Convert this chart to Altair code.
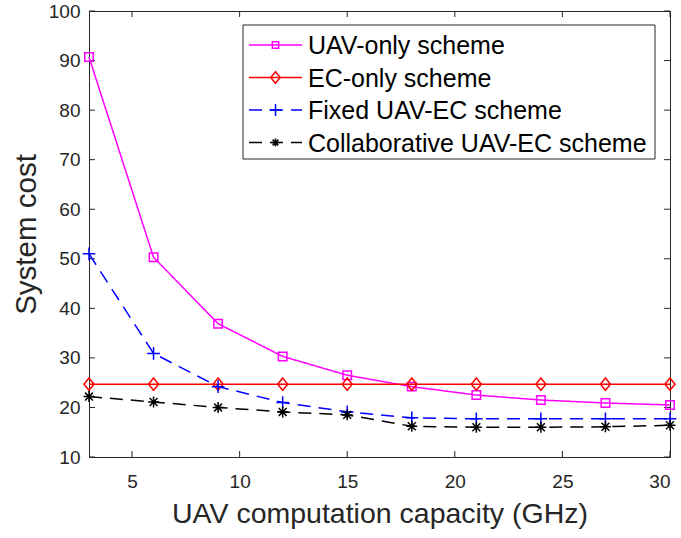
import altair as alt
import pandas as pd

# UAV computation capacity (GHz)
capacity = [3, 6, 9, 12, 15, 18, 21, 24, 27, 30]

# System cost of each scheme
uav_only = [90.7, 50.3, 36.9, 30.3, 26.5, 24.2, 22.5, 21.5, 20.9, 20.5]
ec_only = [24.7, 24.7, 24.7, 24.7, 24.7, 24.7, 24.7, 24.7, 24.7, 24.7]
fixed_uav_ec = [51.0, 30.9, 24.2, 21.0, 19.1, 17.9, 17.7, 17.7, 17.7, 17.7]
collab_uav_ec = [22.2, 21.1, 20.0, 19.1, 18.5, 16.2, 16.0, 16.0, 16.1, 16.4]

x_ticks = [5, 10, 15, 20, 25, 30]
y_ticks = [10, 20, 30, 40, 50, 60, 70, 80, 90, 100]

W, H = 581, 446
FONT = "Liberation Sans"
AXIS_COLOR = "#262626"

# marker paths (unit box [-1, 1])
PLUS = "M-1,0L1,0M0,-1L0,1"
STAR = "M-1,0L1,0M0,-1L0,1M-0.72,-0.72L0.72,0.72M-0.72,0.72L0.72,-0.72"
DIAMOND = "M0,-1L0.82,0L0,1L-0.82,0Z"

series = [
    # label, values, color, dash, shape, size
    ("UAV-only scheme", uav_only, "#FF00FF", [1, 0], "square", 72),
    ("EC-only scheme", ec_only, "#FF0000", [1, 0], DIAMOND, 150),
    ("Fixed UAV-EC scheme", fixed_uav_ec, "#0000FF", [13, 8], PLUS, 160),
    ("Collaborative UAV-EC scheme", collab_uav_ec, "#000000", [13, 8], STAR, 120),
]

x_scale = alt.Scale(domain=[3, 30], nice=False, zero=False)
y_scale = alt.Scale(domain=[10, 100], nice=False, zero=False)

x_axis = alt.Axis(
    values=x_ticks, ticks=False, tickSize=0, grid=False, domainColor=AXIS_COLOR,
    labelFont=FONT, labelFontSize=19, labelColor=AXIS_COLOR, labelPadding=15,
    title="UAV computation capacity (GHz)", titleFont=FONT, titleFontSize=28.5,
    titleFontWeight="normal", titleColor=AXIS_COLOR, titlePadding=8,
)
y_axis = alt.Axis(
    values=y_ticks, ticks=False, tickSize=0, grid=False, domainColor=AXIS_COLOR,
    labelFont=FONT, labelFontSize=19, labelColor=AXIS_COLOR, labelPadding=9,
    title="System cost", titleFont=FONT, titleFontSize=29.5,
    titleFontWeight="normal", titleColor=AXIS_COLOR, titlePadding=7,
)

layers = []

# inward tick marks on all four sides
xt = pd.DataFrame({"x": x_ticks})
yt = pd.DataFrame({"y": y_ticks})
tick_style = dict(color=AXIS_COLOR, strokeWidth=1)
layers.append(alt.Chart(xt).mark_rule(**tick_style).encode(
    x=alt.X("x:Q", scale=x_scale, axis=x_axis), y=alt.value(H), y2=alt.value(H - 6)))
layers.append(alt.Chart(xt).mark_rule(**tick_style).encode(
    x=alt.X("x:Q", scale=x_scale), y=alt.value(0), y2=alt.value(6)))
layers.append(alt.Chart(yt).mark_rule(**tick_style).encode(
    y=alt.Y("y:Q", scale=y_scale, axis=y_axis), x=alt.value(0), x2=alt.value(6)))
layers.append(alt.Chart(yt).mark_rule(**tick_style).encode(
    y=alt.Y("y:Q", scale=y_scale), x=alt.value(W), x2=alt.value(W - 6)))

# data lines and markers
for label, vals, color, dash, shape, size in series:
    df = pd.DataFrame({"capacity": capacity, "cost": vals})
    base = alt.Chart(df).encode(
        x=alt.X("capacity:Q", scale=x_scale),
        y=alt.Y("cost:Q", scale=y_scale),
    )
    layers.append(base.mark_line(color=color, strokeWidth=1.5, strokeDash=dash))
    layers.append(base.mark_point(shape=shape, size=size, filled=False,
                                  color=color, strokeWidth=1.5, opacity=1))

# legend box
LX0, LX1, LY0, LY1 = 154, 566, 14, 148
layers.append(alt.Chart(pd.DataFrame({"a": [0]})).mark_rect(
    fill="white", stroke=AXIS_COLOR, strokeWidth=1).encode(
    x=alt.value(LX0), x2=alt.value(LX1), y=alt.value(LY0), y2=alt.value(LY1)))

row_y = [34, 66.5, 99, 131.5]
one = pd.DataFrame({"a": [0]})
for (label, vals, color, dash, shape, size), ry in zip(series, row_y):
    layers.append(alt.Chart(one).mark_rule(
        color=color, strokeWidth=1.5, strokeDash=dash).encode(
        x=alt.value(160), x2=alt.value(213), y=alt.value(ry)))
    layers.append(alt.Chart(one).mark_point(
        shape=shape, size=size * (0.55 if shape in ("square", STAR) else 0.9),
        filled=False, color=color, strokeWidth=1.5, opacity=1).encode(
        x=alt.value(186.5), y=alt.value(ry)))
    layers.append(alt.Chart(one).mark_text(
        text=label, font=FONT, fontSize=25, color="black",
        align="left", baseline="middle").encode(
        x=alt.value(219), y=alt.value(ry + 1)))

chart = alt.layer(*layers).properties(
    width=W, height=H,
    padding={"left": 89, "top": 11, "right": 11, "bottom": 81},
    autosize=alt.AutoSizeParams(type="none"),
    background="white",
).configure_view(stroke=AXIS_COLOR, strokeWidth=1)

chart.save("out.html", embed_options={"renderer": "svg", "actions": False})
